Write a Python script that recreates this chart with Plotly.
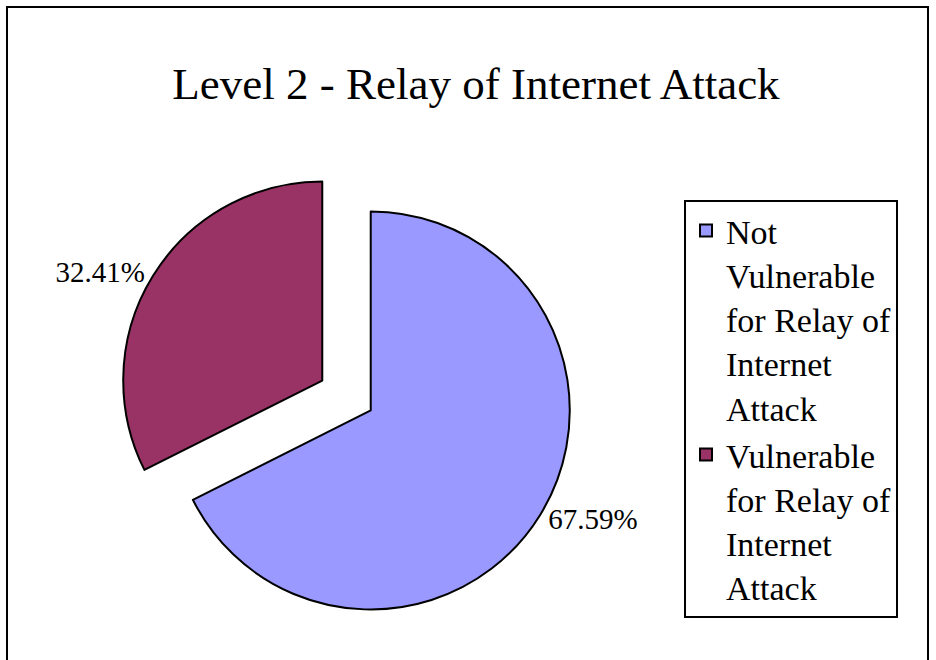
import plotly.graph_objects as go

W, H = 936, 660

labels = ["Not<br>Vulnerable<br>for Relay of<br>Internet<br>Attack",
          "Vulnerable<br>for Relay of<br>Internet<br>Attack"]
values = [67.59, 32.41]
colors = ["#9999FF", "#993366"]
title_text = "Level 2 - Relay of Internet Attack"

def px_x(p):
    return p / W

def px_y(p):
    return 1 - p / H

fig = go.Figure(go.Pie(
    labels=labels,
    values=values,
    sort=False,
    direction="clockwise",
    rotation=0,
    pull=[0.143, 0.143],
    marker=dict(colors=colors, line=dict(color="black", width=2)),
    textinfo="percent",
    texttemplate="%{percent:.2%}",
    textposition="outside",
    outsidetextfont=dict(family="Liberation Serif", size=29, color="black"),
    domain=dict(x=[px_x(119), px_x(574)], y=[px_y(623), px_y(168)]),
    hoverinfo="label+percent",
))

fig.update_layout(
    width=W, height=H,
    margin=dict(l=0, r=0, t=0, b=0, autoexpand=False),
    paper_bgcolor="white",
    plot_bgcolor="white",
    font=dict(family="Liberation Serif", color="black"),
    title=dict(text=title_text, x=px_x(476), xanchor="center",
               y=px_y(83), yanchor="middle",
               font=dict(family="Liberation Serif", size=45, color="black")),
    showlegend=True,
    legend=dict(x=px_x(684), xanchor="left", y=px_y(200), yanchor="top",
                bordercolor="black", borderwidth=2, bgcolor="white",
                valign="top", entrywidth=200, entrywidthmode="pixels",
                font=dict(family="Liberation Serif", size=34, color="black"),
                tracegroupgap=0),
    shapes=[dict(type="rect", xref="paper", yref="paper",
                 x0=px_x(7), x1=px_x(928), y0=px_y(680), y1=px_y(7),
                 line=dict(color="black", width=2), fillcolor="rgba(0,0,0,0)")],
)

fig.write_html("out.html")
